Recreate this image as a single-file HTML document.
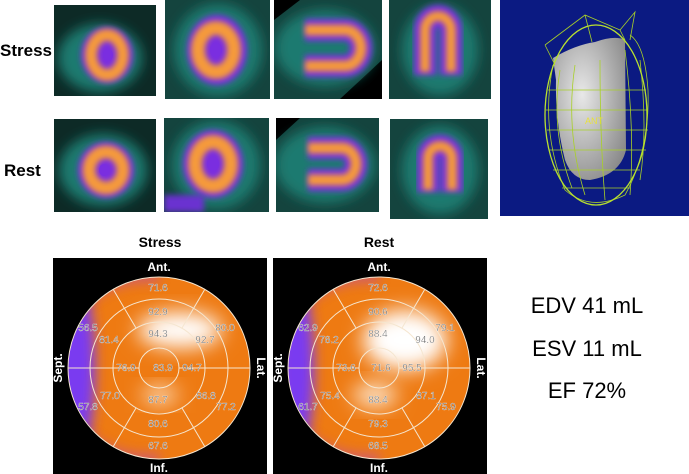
<!DOCTYPE html>
<html><head><meta charset="utf-8"><style>
body{margin:0;background:#fff;width:689px;height:474px;overflow:hidden}
svg{display:block}
</style></head><body>
<svg width="689" height="474" viewBox="0 0 689 474" xmlns="http://www.w3.org/2000/svg">
<defs>
<filter id="b6" x="-50%" y="-50%" width="200%" height="200%"><feGaussianBlur stdDeviation="6"/></filter>
<filter id="b3" x="-50%" y="-50%" width="200%" height="200%"><feGaussianBlur stdDeviation="3"/></filter>
<filter id="b10" x="-50%" y="-50%" width="200%" height="200%"><feGaussianBlur stdDeviation="10"/></filter>
<radialGradient id="hg" cx="40%" cy="40%" r="70%"><stop offset="0" stop-color="#e8e8e8"/><stop offset="1" stop-color="#8a8a8a"/></radialGradient>
<clipPath id="c1"><circle cx="159" cy="368" r="91"/></clipPath>
<clipPath id="c2"><circle cx="379" cy="368" r="91"/></clipPath>
<clipPath id="i1"><rect x="54" y="5" width="102" height="91"/></clipPath>
<clipPath id="i2"><rect x="165" y="0" width="105" height="99"/></clipPath>
<clipPath id="i3"><rect x="274" y="0" width="108" height="99"/></clipPath>
<clipPath id="i4"><rect x="389" y="0" width="102" height="99"/></clipPath>
<clipPath id="j1"><rect x="54" y="119" width="102" height="93"/></clipPath>
<clipPath id="j2"><rect x="164" y="118" width="105" height="94"/></clipPath>
<clipPath id="j3"><rect x="276" y="118" width="103" height="94"/></clipPath>
<clipPath id="j4"><rect x="390" y="119" width="98" height="100"/></clipPath>
</defs>

<text x="0" y="56" font-family="Liberation Sans, sans-serif" font-weight="bold" font-size="17">Stress</text>
<text x="4" y="176" font-family="Liberation Sans, sans-serif" font-weight="bold" font-size="17">Rest</text>

<!-- Stress row -->
<g clip-path="url(#i1)"><rect x="54" y="5" width="102" height="91" fill="#0d2a26"/>
<ellipse cx="100" cy="58" rx="42" ry="34" fill="#1f7a70" filter="url(#b6)"/>
<ellipse cx="107" cy="55" rx="26" ry="28" fill="#7a2ee0" filter="url(#b3)"/>
<ellipse cx="107" cy="55" rx="16" ry="20" fill="none" stroke="#f59a3a" stroke-width="12" filter="url(#b3)"/>
<ellipse cx="108" cy="55" rx="5" ry="6" fill="#7a2ee0"/></g>
<g clip-path="url(#i2)"><rect x="165" y="0" width="105" height="99" fill="#14443e"/>
<ellipse cx="218" cy="50" rx="44" ry="46" fill="#1f7a70" filter="url(#b6)"/>
<ellipse cx="217" cy="50" rx="30" ry="35" fill="#7a2ee0" filter="url(#b3)"/>
<ellipse cx="216" cy="50" rx="18" ry="22" fill="none" stroke="#f59a3a" stroke-width="14" filter="url(#b3)"/>
<ellipse cx="216" cy="50" rx="6" ry="7" fill="#7a2ee0"/></g>
<g clip-path="url(#i3)"><rect x="274" y="0" width="108" height="99" fill="#14443e"/>
<polygon points="274,0 300,0 274,20" fill="#000"/><polygon points="382,60 382,99 340,99" fill="#000"/>
<ellipse cx="325" cy="48" rx="50" ry="38" fill="#1f7a70" filter="url(#b6)"/>
<path d="M305,30 L345,30 A16,18 0 0 1 345,66 L305,66" fill="none" stroke="#7a2ee0" stroke-width="22" filter="url(#b3)"/>
<path d="M305,30 L345,30 A16,18 0 0 1 345,66 L305,66" fill="none" stroke="#f59a3a" stroke-width="11" filter="url(#b3)"/></g>
<g clip-path="url(#i4)"><rect x="389" y="0" width="102" height="99" fill="#14443e"/>
<ellipse cx="440" cy="50" rx="38" ry="45" fill="#1f7a70" filter="url(#b6)"/>
<path d="M425,75 L425,30 A13,14 0 0 1 451,30 L451,75" fill="none" stroke="#7a2ee0" stroke-width="22" filter="url(#b3)"/>
<path d="M425,72 L425,30 A13,14 0 0 1 451,30 L451,72" fill="none" stroke="#f59a3a" stroke-width="10" filter="url(#b3)"/></g>

<!-- Rest row -->
<g clip-path="url(#j1)"><rect x="54" y="119" width="102" height="93" fill="#0d2a26"/>
<ellipse cx="103" cy="170" rx="44" ry="36" fill="#1f7a70" filter="url(#b6)"/>
<ellipse cx="106" cy="170" rx="28" ry="28" fill="#7a2ee0" filter="url(#b3)"/>
<ellipse cx="106" cy="170" rx="17" ry="18" fill="none" stroke="#f59a3a" stroke-width="13" filter="url(#b3)"/>
<ellipse cx="104" cy="170" rx="5" ry="6" fill="#7a2ee0"/></g>
<g clip-path="url(#j2)"><rect x="164" y="118" width="105" height="94" fill="#14443e"/>
<ellipse cx="216" cy="165" rx="44" ry="44" fill="#1f7a70" filter="url(#b6)"/>
<ellipse cx="213" cy="164" rx="30" ry="34" fill="#7a2ee0" filter="url(#b3)"/>
<ellipse cx="213" cy="164" rx="18" ry="22" fill="none" stroke="#f59a3a" stroke-width="14" filter="url(#b3)"/>
<ellipse cx="213" cy="164" rx="6" ry="7" fill="#7a2ee0"/>
<rect x="164" y="195" width="40" height="17" fill="#6a30d0" filter="url(#b3)"/></g>
<g clip-path="url(#j3)"><rect x="276" y="118" width="103" height="94" fill="#14443e"/>
<polygon points="276,118 300,118 276,140" fill="#000"/>
<ellipse cx="325" cy="165" rx="50" ry="38" fill="#1f7a70" filter="url(#b6)"/>
<path d="M308,148 L342,148 A14,16 0 0 1 342,180 L308,180" fill="none" stroke="#7a2ee0" stroke-width="22" filter="url(#b3)"/>
<path d="M308,148 L342,148 A14,16 0 0 1 342,180 L308,180" fill="none" stroke="#f59a3a" stroke-width="11" filter="url(#b3)"/></g>
<g clip-path="url(#j4)"><rect x="390" y="119" width="98" height="100" fill="#14443e"/>
<ellipse cx="440" cy="170" rx="38" ry="44" fill="#1f7a70" filter="url(#b6)"/>
<path d="M428,192 L428,158 A12,12 0 0 1 452,158 L452,192" fill="none" stroke="#7a2ee0" stroke-width="22" filter="url(#b3)"/>
<path d="M428,190 L428,158 A12,12 0 0 1 452,158 L452,190" fill="none" stroke="#f59a3a" stroke-width="10" filter="url(#b3)"/></g>

<!-- 3D heart -->
<rect x="500" y="0" width="189" height="216" fill="#0b1a82"/>
<path d="M553,58 Q575,45 595,42 Q615,35 625,40 L626,150 Q620,175 590,180 Q572,180 565,160 Q555,120 556,80 Z" fill="url(#hg)"/>
<g stroke="#a8d028" stroke-width="0.8" fill="none">
<path d="M553,65 Q540,130 565,190 Q590,212 625,195 Q650,150 648,90 Q645,45 630,35"/>
<path d="M560,70 Q550,130 572,188 M575,65 Q565,130 585,195 M600,60 Q600,140 605,200 M625,50 Q635,130 630,195 M640,60 Q648,130 640,180"/>
<path d="M548,90 H646 M546,110 H648 M547,130 H648 M549,150 H646 M553,170 H640 M562,188 H630"/>
<path d="M545,45 L585,15 L620,30 L635,12 L630,40 M545,45 L555,65 M585,15 L592,42 M620,30 L625,40"/></g>
<ellipse cx="596" cy="115" rx="51" ry="90" fill="none" stroke="#b8e030" stroke-width="1.3"/>
<text x="585" y="124" font-family="Liberation Sans, sans-serif" font-size="9" fill="#e8e040">ANT</text>

<!-- Polar titles -->
<text x="160" y="247" text-anchor="middle" font-family="Liberation Sans, sans-serif" font-weight="bold" font-size="14">Stress</text>
<text x="379" y="247" text-anchor="middle" font-family="Liberation Sans, sans-serif" font-weight="bold" font-size="14">Rest</text>

<!-- Map 1 -->
<rect x="53" y="258" width="214" height="216" fill="#000"/>
<g clip-path="url(#c1)">
<circle cx="159" cy="368" r="91" fill="#ee7a12"/>
<ellipse cx="180" cy="330" rx="42" ry="18" fill="#fff" filter="url(#b10)"/>
<ellipse cx="160" cy="395" rx="18" ry="9" fill="#fde0c0" filter="url(#b10)"/>
<ellipse cx="75" cy="368" rx="20" ry="95" fill="#7a3af0" filter="url(#b6)"/>
<path d="M85,300 A91,91 0 0 1 159,277 M85,436 A91,91 0 0 0 159,459" fill="none" stroke="#b040d0" stroke-width="10" filter="url(#b6)" opacity="0.6"/>
</g>
<!-- Map 2 -->
<rect x="273" y="258" width="214" height="216" fill="#000"/>
<g clip-path="url(#c2)">
<circle cx="379" cy="368" r="91" fill="#ee7a12"/>
<ellipse cx="405" cy="340" rx="42" ry="30" fill="#fff" filter="url(#b10)"/>
<ellipse cx="375" cy="395" rx="22" ry="12" fill="#fde8d0" filter="url(#b10)"/>
<ellipse cx="296" cy="368" rx="18" ry="90" fill="#7a3af0" filter="url(#b6)"/>
<path d="M305,300 A91,91 0 0 1 379,277 M305,436 A91,91 0 0 0 379,459" fill="none" stroke="#b040d0" stroke-width="10" filter="url(#b6)" opacity="0.6"/>
</g>

<g stroke="#f5e6d0" stroke-width="1" fill="none">
<circle cx="159" cy="368" r="91"/><circle cx="159" cy="368" r="69"/><circle cx="159" cy="368" r="46"/><circle cx="159" cy="368" r="20"/>
<path d="M68,368 H139 M179,368 H250 M136,328 L113,289 M182,328 L205,289 M136,408 L113,447 M182,408 L205,447"/>
<circle cx="379" cy="368" r="91"/><circle cx="379" cy="368" r="69"/><circle cx="379" cy="368" r="46"/><circle cx="379" cy="368" r="20"/>
<path d="M288,368 H359 M399,368 H470 M356,328 L333,289 M402,328 L425,289 M356,408 L333,447 M402,408 L425,447"/>
</g>

<g font-family="Liberation Sans, sans-serif" font-size="10" fill="#555" text-anchor="middle" stroke="#fff" stroke-width="0.3">
<text x="158" y="291">71.6</text><text x="158" y="315">92.9</text><text x="158" y="337">94.3</text>
<text x="88" y="331">56.5</text><text x="109" y="343">81.4</text><text x="225" y="331">80.0</text><text x="205" y="343">92.7</text>
<text x="126" y="371">76.9</text><text x="163" y="371">83.9</text><text x="192" y="371">94.7</text>
<text x="110" y="399">77.0</text><text x="88" y="410">57.8</text><text x="158" y="403">87.7</text><text x="206" y="399">86.8</text><text x="226" y="410">77.2</text>
<text x="158" y="427">80.6</text><text x="158" y="449">67.6</text>

<text x="378" y="291">72.6</text><text x="378" y="315">90.6</text><text x="378" y="337">88.4</text>
<text x="308" y="331">62.9</text><text x="329" y="343">78.2</text><text x="445" y="331">79.1</text><text x="425" y="343">94.0</text>
<text x="346" y="371">73.6</text><text x="381" y="371">71.6</text><text x="412" y="371">95.5</text>
<text x="330" y="399">75.4</text><text x="308" y="410">61.7</text><text x="378" y="403">88.4</text><text x="426" y="399">87.1</text><text x="446" y="410">75.9</text>
<text x="378" y="427">79.3</text><text x="378" y="449">68.5</text>
</g>

<g font-family="Liberation Sans, sans-serif" font-weight="bold" font-size="12" fill="#fff" text-anchor="middle">
<text x="159" y="271">Ant.</text><text x="159" y="472">Inf.</text>
<text transform="translate(62,368) rotate(-90)">Sept.</text>
<text transform="translate(257,368) rotate(90)">Lat.</text>
<text x="379" y="271">Ant.</text><text x="379" y="472">Inf.</text>
<text transform="translate(282,368) rotate(-90)">Sept.</text>
<text transform="translate(477,368) rotate(90)">Lat.</text>
</g>

<g font-family="Liberation Sans, sans-serif" font-size="22" fill="#000" text-anchor="middle">
<text x="587" y="313">EDV 41 mL</text>
<text x="587" y="356">ESV 11 mL</text>
<text x="587" y="398">EF 72%</text>
</g>
</svg>
</body></html>
